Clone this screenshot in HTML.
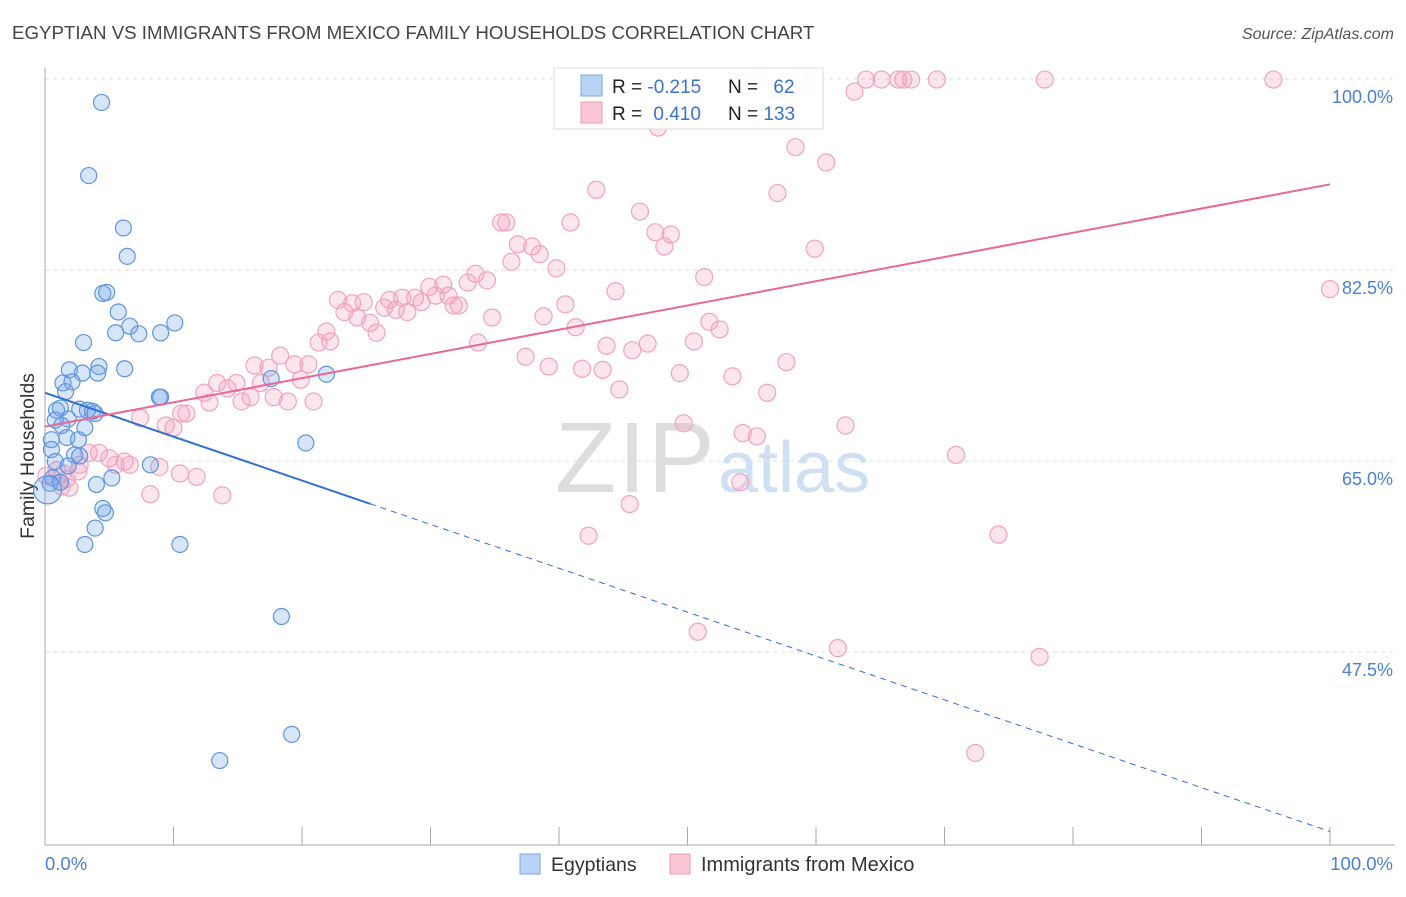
<!DOCTYPE html>
<html><head><meta charset="utf-8"><style>
body{margin:0;background:#fff;font-family:"Liberation Sans",sans-serif;}
svg text{font-family:"Liberation Sans",sans-serif;}
</style></head><body>
<svg id="chart" width="1406" height="892" xmlns="http://www.w3.org/2000/svg">
<text x="12" y="39" font-size="18.7" fill="#444">EGYPTIAN VS IMMIGRANTS FROM MEXICO FAMILY HOUSEHOLDS CORRELATION CHART</text>
<text x="1394" y="39" font-size="16" fill="#555" text-anchor="end" font-style="italic">Source: ZipAtlas.com</text>
<text transform="translate(34,456) rotate(-90)" font-size="19.5" fill="#333" text-anchor="middle">Family Households</text>
<g id="grid"></g>
<g>
<text x="555" y="492" font-size="100" fill="#ddd" font-family="Liberation Serif" letter-spacing="2">ZIP</text>
<text x="718" y="492" font-size="72" fill="#cfe0f4">atlas</text>
</g>
<line x1="45" y1="68" x2="45" y2="845" stroke="#aaa"/>
<line x1="45" y1="845" x2="1395" y2="845" stroke="#aaa"/>
<g id="xticks"></g>
<g id="yticks"></g>
<text x="45" y="870" font-size="18.5" fill="#4a7fd4">0.0%</text>
<text x="1393" y="870" font-size="18.5" fill="#4a7fd4" text-anchor="end">100.0%</text>
<g id="pts"></g>
<g id="lines"></g>
<g>
<rect x="554" y="68" width="269" height="61" fill="#fff" fill-opacity="0.9" stroke="#ddd"/>
<rect x="581" y="75" width="21" height="21" fill="#b8d3f5" stroke="#7aa8e6"/>
<rect x="581" y="102" width="21" height="21" fill="#f9c6d6" stroke="#ef9ab6"/>
<text x="612" y="93" font-size="19" fill="#222">R = <tspan fill="#3a72d0">-0.215</tspan></text>
<text x="728" y="93" font-size="19" fill="#222">N = <tspan fill="#3a72d0" dx="10">62</tspan></text>
<text x="612" y="120" font-size="19" fill="#222">R = <tspan fill="#3a72d0" dx="6">0.410</tspan></text>
<text x="728" y="120" font-size="19" fill="#222">N = <tspan fill="#3a72d0">133</tspan></text>
</g>
<g>
<rect x="520" y="854" width="20" height="20" fill="#b8d3f5" stroke="#7aa8e6"/>
<text x="551" y="871" font-size="19.5" fill="#333">Egyptians</text>
<rect x="670" y="854" width="20" height="20" fill="#f9c6d6" stroke="#ef9ab6"/>
<text x="701" y="871" font-size="20" fill="#333">Immigrants from Mexico</text>
</g>
</svg>
<script>
const yTicks=[100,82.5,65,47.5];
const xTickCount=[0,10,20,30,40,50,60,70,80,90,100];
const blueX=[4.4,3.4,6.1,6.4,4.5,4.8,5.7,5.5,6.6,7.3,9.0,10.1,3.0,6.2,4.2,4.1,1.9,2.9,1.4,2.1,1.6,8.9,9.0,17.6,21.9,0.9,1.2,2.7,3.3,3.7,3.9,1.8,0.8,1.3,3.1,1.7,2.6,0.5,0.5,2.3,2.7,0.8,1.8,8.2,5.2,4.0,0.6,0.4,0.2,1.2,20.3,4.5,4.7,3.9,3.1,10.5,18.4,19.2,13.6];
const blueY=[99.5,92.8,88.0,85.4,82.0,82.1,80.3,78.4,79.0,78.3,78.4,79.3,77.5,75.1,75.3,74.7,75.0,74.7,73.8,73.9,73.0,72.5,72.5,74.2,74.6,71.3,71.5,71.4,71.3,71.2,71.0,70.5,70.4,69.9,69.7,68.8,68.6,68.6,67.7,67.2,67.1,66.6,66.2,66.3,65.1,64.5,65.1,64.6,64.0,64.7,68.3,62.3,61.9,60.5,59.0,59.0,52.4,41.6,39.2];
const pinkX=[55.6,58.8,63.9,65.1,66.4,66.8,67.4,69.4,77.8,95.6,63.0,47.7,58.4,60.8,42.9,57.0,35.5,35.9,40.9,46.3,47.5,48.7,48.2,36.8,37.9,38.5,36.3,39.8,33.5,31.0,29.9,32.9,34.4,44.4,51.3,59.9,100,22.8,23.9,24.8,26.4,26.8,27.8,28.8,29.3,30.4,31.4,32.2,31.8,23.3,24.3,25.3,25.8,27.3,28.2,34.8,38.8,40.5,41.3,21.9,22.2,21.3,33.7,37.4,39.2,43.7,45.7,46.9,50.5,51.7,52.5,41.8,43.4,44.7,49.4,53.5,57.7,56.2,18.3,19.4,20.5,16.3,17.4,13.4,14.9,16.8,19.9,14.2,12.4,12.8,15.3,16.0,17.8,18.9,20.9,10.6,11.0,7.4,9.4,10.0,49.7,54.3,55.4,62.3,70.9,3.4,4.2,5.0,6.2,5.5,6.6,8.9,2.7,2.6,0.9,1.4,0.1,1.7,10.5,11.8,1.3,1.9,8.2,13.8,54.1,45.5,42.3,74.2,50.8,61.7,77.4,72.4];
const pinkY=[101.6,101.6,101.6,101.6,101.6,101.6,101.6,101.6,101.6,101.6,100.5,97.2,95.4,94.0,91.5,91.2,88.5,88.5,88.5,89.5,87.6,87.4,86.3,86.5,86.3,85.6,84.9,84.3,83.8,82.8,82.6,83.0,83.2,82.2,83.5,86.1,82.4,81.4,81.1,81.2,80.7,81.4,81.6,81.6,81.2,81.8,81.8,80.9,80.9,80.3,79.8,79.3,78.4,80.5,80.3,79.8,79.9,81.0,78.9,78.5,77.6,77.5,77.5,76.2,75.3,77.2,76.8,77.4,77.6,79.4,78.7,75.1,75.0,73.2,74.7,74.4,75.7,72.9,76.3,75.5,75.5,75.4,75.2,73.8,73.8,73.8,74.1,73.3,72.9,72.0,72.1,72.5,72.5,72.1,72.1,71.0,71.0,70.6,69.9,69.7,70.1,69.2,68.9,69.9,67.2,67.4,67.4,66.9,66.6,66.3,66.3,66.1,66.3,65.7,65.8,65.5,65.3,65.0,65.5,65.2,64.3,64.2,63.6,63.5,64.7,62.7,59.8,59.9,51.0,49.5,48.7,39.9];
const blueTrend=[72.9,32.7];
const pinkTrend=[69.8,92.0];
const blueSolidEnd=25.3;
const NS='http://www.w3.org/2000/svg';
const X=v=>45+v*12.85;
const Y=v=>97+(100-v)*10.914;
function mk(tag,attrs,parent){const e=document.createElementNS(NS,tag);for(const k in attrs)e.setAttribute(k,attrs[k]);parent.appendChild(e);return e;}
const grid=document.getElementById('grid'),yt=document.getElementById('yticks'),xt=document.getElementById('xticks');
yTicks.forEach(v=>{
 const l=mk('line',{x1:45,x2:1395,y1:Y(v)-18,y2:Y(v)-18,stroke:'#ddd','stroke-dasharray':'4 4'},grid);
 
 
 const t=mk('text',{x:1393,y:Y(v)+6,'font-size':18,fill:'#4a7fd4','text-anchor':'end'},yt);
 t.textContent=v.toFixed(1)+'%';
 
 
});
xTickCount.forEach(v=>{
 const l=mk('line',{x1:X(v),x2:X(v),y1:827,y2:845,stroke:'#aaa'},xt);
 
 
});
const pts=document.getElementById('pts');
pinkX.forEach((x,i)=>{
 const c=mk('circle',{cx:X(x),cy:Y(pinkY[i]),r:8.5,fill:'rgba(243,160,190,0.28)',stroke:'#f0a3bf','stroke-width':1.2},pts);
 
 
});
blueX.forEach((x,i)=>{
 const big=(i===48);
 const c=mk('circle',{cx:X(x),cy:Y(blueY[i]),r:big?14:8,fill:'rgba(110,160,230,0.28)',stroke:'#5f95de','stroke-width':1.2},pts);
 
 
});
const lines=document.getElementById('lines');
const by=x=>blueTrend[0]+(blueTrend[1]-blueTrend[0])*x/100;
const py=x=>pinkTrend[0]+(pinkTrend[1]-pinkTrend[0])*x/100;
let l1=mk('line',{x1:X(0),y1:Y(by(0)),x2:X(blueSolidEnd),y2:Y(by(blueSolidEnd)),stroke:'#2f6fd6','stroke-width':2},lines);


let l2=mk('line',{x1:X(blueSolidEnd),y1:Y(by(blueSolidEnd)),x2:X(100),y2:Y(by(100)),stroke:'#2f6fd6','stroke-width':1,'stroke-dasharray':'6 5'},lines);


let l3=mk('line',{x1:X(0),y1:Y(py(0)),x2:X(100),y2:Y(py(100)),stroke:'#e8689a','stroke-width':2},lines);


</script>
</body></html>
